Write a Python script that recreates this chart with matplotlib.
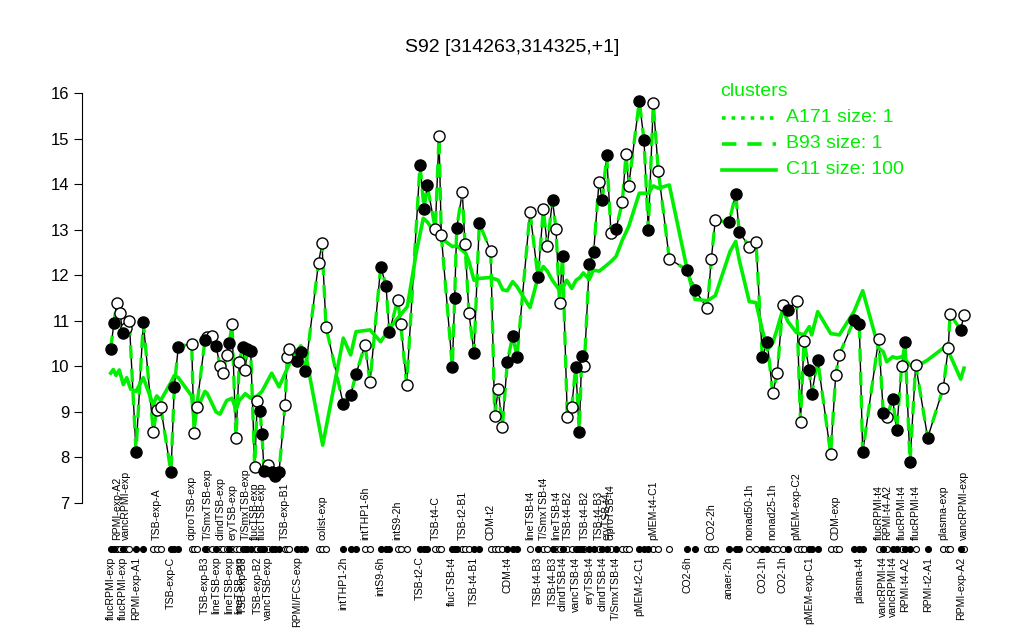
import matplotlib
matplotlib.use("Agg")
import matplotlib.pyplot as plt
from matplotlib.lines import Line2D
from matplotlib.transforms import blended_transform_factory
import numpy as np

plt.rcParams['font.family'] = ['Liberation Sans', 'DejaVu Sans']

# ---- data ----
positions = [10.7, 14.0, 16.7, 20.0, 22.7, 26.0, 29.3, 36.0, 43.3, 53.3, 56.7, 60.7, 71.0, 74.3, 78.3,
             91.7, 94.0, 96.7, 105.0, 107.3, 111.7, 116.0, 120.0, 122.7, 126.7, 129.3, 132.0, 136.0,
             139.3, 142.7, 145.3, 147.3, 150.7, 154.7, 157.3, 160.0, 162.0, 164.0, 167.7, 171.7, 175.0,
             179.0, 185.0, 187.3, 189.3, 197.3, 200.7, 205.3, 218.5, 222.0, 226.0, 243.3, 250.7, 256.0,
             265.0, 270.0, 280.7, 286.0, 289.3, 297.7, 300.7, 306.7, 320.0, 324.0, 327.3, 335.3, 339.0,
             341.3, 352.3, 354.7, 356.7, 362.3, 365.0, 369.0, 374.0, 379.3, 390.7, 394.7, 398.3, 402.3,
             407.3, 412.7, 417.0, 430.0, 438.0, 443.3, 447.3, 452.5, 456.0, 459.5, 462.5, 467.3, 471.7,
             475.7, 479.3, 481.7, 484.3, 489.3, 493.7, 499.0, 502.3, 506.7, 511.0, 516.0, 522.3, 526.0,
             528.7, 539.3, 544.0, 548.3, 553.3, 558.3, 569.3, 587.3, 595.0, 607.3, 611.3, 615.3, 629.0,
             635.7, 639.3, 649.3, 656.0, 662.3, 667.3, 672.7, 677.3, 682.7, 688.0, 696.5, 700.5, 704.0,
             709.3, 711.7, 717.7, 730.7, 735.7, 739.3, 754.0, 759.3, 762.7, 778.7, 783.3, 786.7, 792.7,
             796.7, 801.7, 805.0, 810.0, 815.7, 827.7, 843.3, 848.3, 850.0, 860.7, 864.0]

values = [10.38, 10.96, 11.40, 11.18, 10.73, 10.85, 11.00, 8.13, 10.97, 8.56, 9.04, 9.11, 7.67, 9.55, 10.43,
          10.50, 8.54, 9.11, 10.58, 10.64, 10.67, 10.45, 10.01, 9.86, 10.25, 10.52, 10.92, 8.42,
          10.10, 10.42, 9.93, 10.37, 10.34, 7.78, 9.25, 9.02, 8.51, 7.71, 7.83, 7.67, 7.60,
          7.67, 9.15, 10.20, 10.37, 10.12, 10.32, 9.90, 12.27, 12.70, 10.87, 9.17, 9.37, 9.83,
          10.47, 9.65, 12.19, 11.77, 10.75, 11.46, 10.94, 9.59, 14.43, 13.45, 13.97, 13.01, 15.06,
          12.88, 9.99, 11.51, 13.03, 13.83, 12.68, 11.16, 10.29, 13.14, 12.53, 8.92, 9.50, 8.66,
          10.10, 10.67, 10.20, 13.39, 11.95, 13.45, 12.65, 13.65, 13.01, 11.39, 12.42, 8.89, 9.10,
          9.99, 8.56, 10.23, 10.01, 12.25, 12.52, 14.05, 13.65, 14.63, 12.93, 13.01, 13.60, 14.65,
          13.96, 15.82, 14.97, 12.99, 15.77, 14.29, 12.36, 12.11, 11.68, 11.27, 12.35, 13.21, 13.16,
          13.78, 12.94, 12.63, 12.74, 10.21, 10.54, 9.41, 9.85, 11.35, 11.24, 11.44, 8.78, 10.56,
          9.92, 9.39, 10.14, 8.07, 9.81, 10.25, 11.02, 10.94, 8.11, 10.61, 8.98, 8.89, 9.28,
          8.60, 10.01, 10.54, 7.89, 10.04, 8.43, 9.53, 10.41, 11.15, 10.80, 11.13]

filled = [1, 1, 0, 0, 1, 0, 0, 1, 1, 0, 0, 0, 1, 1, 1,
          0, 0, 0, 1, 0, 0, 1, 0, 0, 0, 1, 0, 0,
          0, 1, 0, 1, 1, 0, 0, 1, 1, 1, 0, 1, 1,
          1, 0, 0, 0, 1, 1, 1, 0, 0, 0, 1, 1, 1,
          0, 0, 1, 1, 1, 0, 0, 0, 1, 1, 1, 0, 0,
          0, 1, 1, 1, 0, 0, 0, 1, 1, 0, 0, 0, 0,
          1, 1, 1, 0, 1, 0, 0, 1, 0, 0, 1, 0, 0,
          1, 1, 1, 0, 1, 1, 0, 1, 1, 0, 1, 0, 0,
          0, 1, 1, 1, 0, 0, 0, 1, 1, 0, 0, 0, 1,
          1, 1, 0, 0, 1, 1, 0, 0, 0, 1, 0, 0, 0,
          1, 1, 1, 0, 0, 0, 1, 1, 1, 0, 1, 0, 1,
          1, 0, 1, 1, 0, 1, 0, 0, 0, 1, 0]

# C11 cluster profile (solid green line)
c11_positions = [10.7, 13.3, 16.0, 19.3, 23.3, 26.7, 30.7, 36.0, 43.3, 53.3, 56.7, 60.7, 71.0, 74.3, 78.3,
                 91.7, 94.0, 96.7, 105.0, 107.3, 111.7, 116.0, 120.0, 126.7, 132.0, 136.0, 139.3, 145.3,
                 150.7, 157.3, 162.0, 171.7, 179.0, 189.3, 200.7, 205.3, 222.7, 243.3, 250.7, 256.0,
                 270.0, 280.7, 289.3, 301.7, 307.3, 316.7, 323.3, 327.3, 335.3, 341.3, 352.3, 356.7,
                 365.7, 369.0, 374.0, 379.3, 390.7, 398.3, 402.7, 407.3, 412.7, 417.0, 430.0, 438.0,
                 443.3, 447.3, 452.3, 459.3, 462.5, 466.7, 471.7, 476.0, 480.0, 483.3, 489.3, 493.3,
                 499.3, 506.7, 511.0, 516.0, 522.3, 528.7, 539.3, 548.3, 553.3, 558.3, 569.3, 587.3,
                 595.0, 607.3, 615.3, 630.0, 635.7, 639.3, 649.3, 656.0, 662.3, 667.3, 672.7, 677.3,
                 682.7, 688.0, 696.5, 704.0, 709.3, 711.7, 717.7, 730.7, 739.3, 754.0, 762.7, 778.7,
                 783.3, 786.7, 792.7, 796.7, 801.7, 805.0, 810.0, 815.7, 827.7, 843.3, 848.3, 850.0,
                 860.7, 864.0]
c11_values = [9.85, 9.93, 9.80, 9.92, 9.60, 9.75, 9.50, 9.45, 9.75, 9.15, 9.35, 9.25, 9.65, 9.80, 9.75,
              9.35, 8.80, 9.05, 9.45, 9.40, 9.20, 9.00, 8.95, 9.25, 9.30, 9.05, 9.25, 9.40,
              9.30, 9.35, 9.45, 9.85, 9.55, 10.05, 10.45, 10.30, 8.27, 10.62, 10.25, 10.76,
              10.80, 10.54, 10.83, 11.16, 11.31, 12.55, 13.25, 13.17, 12.92, 12.81, 12.63, 12.65,
              12.48, 12.30, 11.89, 11.93, 11.95, 11.89, 11.68, 11.66, 11.86, 11.75, 11.29, 11.95,
              12.19, 12.09, 11.89, 11.68, 11.72, 11.89, 11.71, 11.89, 11.95, 12.05, 11.91, 12.11,
              12.09, 12.22, 12.30, 12.41, 12.77, 13.07, 13.80, 13.80, 13.96, 13.91, 13.98, 12.11,
              11.47, 11.44, 11.55, 12.52, 12.74, 12.33, 11.42, 11.40, 10.80, 10.36, 10.51, 10.83,
              11.24, 10.98, 10.74, 10.69, 10.87, 10.69, 11.20, 10.72, 10.69, 11.20, 11.66, 10.40,
              10.32, 10.10, 10.21, 10.18, 10.21, 10.15, 10.03, 9.98, 10.14, 10.40, 10.47, 10.25,
              9.72, 9.96]

lower_idx = [0, 4, 7, 12, 18, 21, 25, 28, 29, 34, 38, 45, 51, 56, 62, 68, 74, 80, 84, 87, 90, 93,
             97, 100, 103, 107, 113, 118, 123, 127, 132, 139, 142, 144, 147, 150, 154]
lower_labels = ["flucRPMI-exp", "flucRPMI-exp", "RPMI-exp-A1", "TSB-exp-C", "TSB-exp-B3",
                "lineTSB-exp", "lineTSB-exp", "lineTSB-exp", "TSB-exp-B3", "TSB-exp-B2",
                "vancTSB-exp", "RPMI/FCS-exp", "intTHP1-2h", "intS9-6h", "TSB-t2-C",
                "flucTSB-t4", "TSB-t4-B1", "CDM-t4", "TSB-t4-B3", "TSB-t4-B3", "clindTSB-t4",
                "vancTSB-t4", "eryTSB-t4", "clindTSB-t4", "T/SmxTSB-t4", "pMEM-t2-C1", "CO2-6h",
                "anaer-2h", "CO2-1h", "CO2-1h", "pMEM-exp-C1", "plasma-t4", "vancRPMI-t4",
                "vancRPMI-t4", "RPMI-t4-A2", "RPMI-t2-A1", "RPMI-exp-A2"]
upper_idx = [2, 5, 10, 15, 19, 22, 26, 30, 33, 36, 42, 49, 54, 59, 65, 71, 76, 83, 85, 88, 91, 96,
             99, 101, 102, 110, 116, 121, 125, 129, 136, 141, 143, 146, 149, 151, 155]
upper_labels = ["RPMI-exp-A2", "vancRPMI-exp", "TSB-exp-A", "ciproTSB-exp", "T/SmxTSB-exp",
                "clindTSB-exp", "eryTSB-exp", "T/SmxTSB-exp", "flucTSB-exp", "flucTSB-exp",
                "TSB-exp-B1", "colist-exp", "intTHP1-6h", "intS9-2h", "TSB-t4-C", "TSB-t2-B1",
                "CDM-t2", "lineTSB-t4", "T/SmxTSB-t4", "lineTSB-t4", "TSB-t4-B2", "TSB-t4-B2",
                "TSB-t4-B3", "eryTSB-t4", "ciproTSB-t4", "pMEM-t4-C1", "CO2-2h", "nonad50-1h",
                "nonad25-1h", "pMEM-exp-C2", "CDM-exp", "flucRPMI-t4", "RPMI-t4-A2",
                "flucRPMI-t4", "flucRPMI-t4", "plasma-exp", "vancRPMI-exp"]

legend_labels = ["A171 size: 1", "B93 size: 1", "C11 size: 100"]
legend_styles = [":", (0, (4, 3)), "-"]
title = "S92 [314263,314325,+1]"

GREEN = "#00ee00"

# ---- figure ----
fig = plt.figure(figsize=(10.24, 6.4), dpi=100)
ax = fig.add_axes([82 / 1024, 120 / 640, 908 / 1024, 440 / 640])
ax.set_xlim(-18, 890)
ax.set_ylim(6.627, 16.285)

x = np.array(positions)
y = np.array(values)
f = np.array(filled, dtype=bool)

ax.plot(x, y, color="black", lw=1.0, zorder=2)
ax.plot(x, y, color=GREEN, lw=2.4, ls=(0, (4, 3)), zorder=3)
ax.plot(c11_positions, c11_values, color=GREEN, lw=2.6, zorder=3)
ax.plot(x[~f], y[~f], "o", ms=8, mfc="white", mec="black", mew=1.0, zorder=4, ls="none")
ax.plot(x[f], y[f], "o", ms=8, mfc="black", mec="black", mew=1.0, zorder=4, ls="none")

# rug of conditions below the axis
tr = blended_transform_factory(ax.transData, ax.transAxes)
ax.plot(x[~f], np.full((~f).sum(), -0.066), "o", ms=4.3, mfc="white", mec="black", mew=0.8,
        transform=tr, clip_on=False, ls="none")
ax.plot(x[f], np.full(f.sum(), -0.066), "o", ms=4.3, mfc="black", mec="black", mew=0.8,
        transform=tr, clip_on=False, ls="none")

for i, lab in zip(upper_idx, upper_labels):
    ax.text(x[i], -0.046, lab, rotation=90, ha="center", va="bottom", fontsize=7.6,
            transform=tr, clip_on=False)
for i, lab in zip(lower_idx, lower_labels):
    ax.text(x[i], -0.083, lab, rotation=90, ha="center", va="top", fontsize=7.6,
            transform=tr, clip_on=False)

# axes styling (R style: only left axis)
for s in ["top", "right", "bottom"]:
    ax.spines[s].set_visible(False)
ax.spines["left"].set_bounds(7, 16)
ax.spines["left"].set_linewidth(0.8)
ax.set_yticks(range(7, 17))
ax.tick_params(axis="y", length=6, width=0.8, labelsize=12, pad=3)
ax.set_xticks([])

fig.text(0.5, 1 - 47 / 640, title, ha="center", va="center", fontsize=14)

# legend (manual)
fig.text(720 / 1024, 1 - 92 / 640, "clusters", color=GREEN, fontsize=14, ha="left", va="center")
for k, (lab, st) in enumerate(zip(legend_labels, legend_styles)):
    yy = 1 - (118 + 26 * k) / 640
    fig.add_artist(Line2D([722 / 1024, 776 / 1024], [yy, yy], color=GREEN, lw=2.6, ls=st))
    fig.text(786 / 1024, yy, lab, color=GREEN, fontsize=14, ha="left", va="center")

fig.savefig("out.png", dpi=100)
